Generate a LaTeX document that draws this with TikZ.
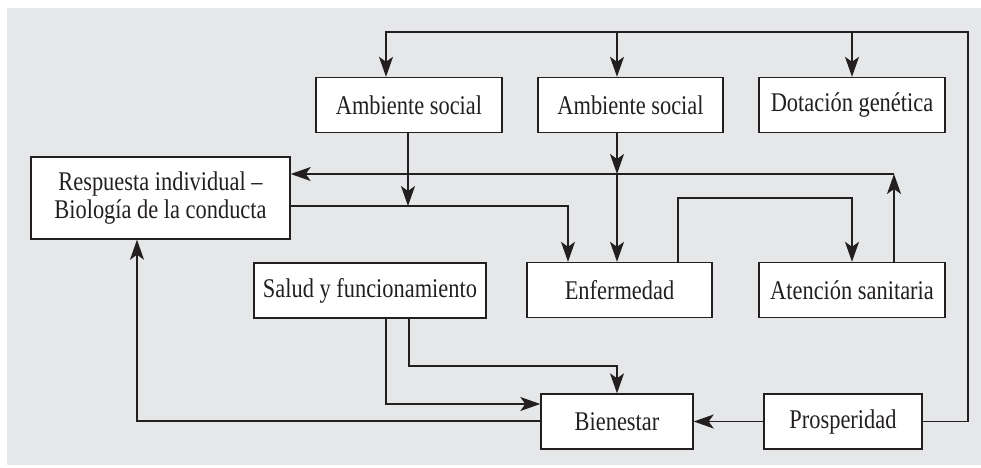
\documentclass[tikz,border=0pt]{standalone}
\usepackage{fontspec}
\setmainfont{Liberation Serif}[FakeStretch=0.83]
\usetikzlibrary{arrows.meta}
\definecolor{bg}{HTML}{E6E7E8}
\definecolor{ink}{HTML}{231F20}
\begin{document}
\begin{tikzpicture}[x=1pt,y=-1pt,
  box/.style={draw=ink,line width=1.4pt,fill=white,inner sep=0pt,minimum height=55pt,
    font=\fontsize{27}{28}\selectfont,text=ink,align=center},
  arr/.style={draw=ink,line width=1.4pt,-{Stealth[length=20pt,width=14pt,inset=5pt]}}]
\useasboundingbox (0,0) rectangle (981,467);
\fill[bg] (7,8) rectangle (981,465);
\node[box,minimum width=186pt] (amb1) at (409,105) {Ambiente social};
\node[box,minimum width=185pt] (amb2) at (630.5,105) {Ambiente social};
\node[box,minimum width=186pt] (dot) at (852,105) {Dotación genética};
\node[box,minimum width=259pt,minimum height=82pt] (resp) at (160.5,198) {Respuesta individual –\\Biología de la conducta};
\node[box,minimum width=232pt] (salud) at (370,290.5) {Salud y funcionamiento};
\node[box,minimum width=185pt] (enf) at (619.5,290) {Enfermedad};
\node[box,minimum width=186pt] (aten) at (852,290) {Atención sanitaria};
\node[box,minimum width=152pt] (bien) at (617,421.5) {Bienestar};
\node[box,minimum width=158pt] (prosp) at (843,421.5) {Prosperidad};
\coordinate (tr) at (968,32);
\coordinate (c2) at (617,174);
\coordinate (c3) at (894,174);
\coordinate (j1) at (408,206);
% top feedback from Prosperidad
\draw[arr] (prosp.east) -| (tr) -- (386,32) -- (386,0 |- amb1.north);
\draw[arr] (617,32) -- (617,0 |- amb2.north);
\draw[arr] (dot.north |- tr) -- (dot.north);
% Ambiente social 1 onto the Respuesta->Enfermedad line
\draw[arr] (408,0 |- amb1.south) -- (j1);
\draw[arr] (resp.east |- j1) -| (568,0 |- enf.north);
% Ambiente social 2 -> Enfermedad
\draw[arr] (617,0 |- amb2.south) -- (c2);
\draw[arr] (c2) -- (617,0 |- enf.north);
% Atencion -> Respuesta
\draw[arr] (c3 |- aten.north) -- (c3);
\draw[arr] (c3) -- (resp.east |- c3);
% Enfermedad -> Atencion
\draw[arr] (678,0 |- enf.north) |- (aten.north |- 0,198) -- (aten.north);
% Salud -> Bienestar
\draw[arr] (409,0 |- salud.south) |- (bien.north |- 0,366) -- (bien.north);
\draw[arr] (386,0 |- salud.south) |- (bien.west |- 0,404);
% Bienestar -> Respuesta
\draw[arr] (bien.west |- 0,421) -| (137,0 |- resp.south);
% Prosperidad -> Bienestar
\draw[arr] (prosp.west) -- (bien.east);
\end{tikzpicture}
\end{document}
